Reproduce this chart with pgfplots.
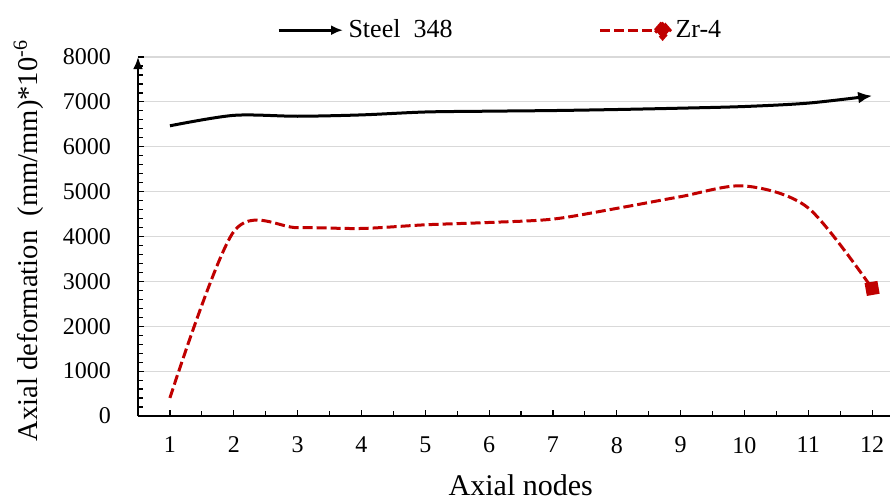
\documentclass[border=0pt]{standalone}
\usepackage{pgfplots}
\pgfplotsset{compat=1.18}
\usepackage{fontspec}
\setmainfont{Liberation Serif}
\usetikzlibrary{arrows.meta}
\definecolor{zrred}{HTML}{C00000}
\definecolor{gridgray}{HTML}{D9D9D9}
\begin{document}
\begin{tikzpicture}
\begin{axis}[
  name=ax,
  scale only axis,
  width=376pt, height=179.5pt,
  xmin=0.5, xmax=12.28,
  ymin=0, ymax=8000,
  axis x line=bottom,
  axis y line=left,
  x axis line style={-, line width=1.2pt},
  y axis line style={-{Latex[length=6pt,width=5pt]}, line width=1.2pt},
  xtick={1,...,12},
  minor xtick={0.5,1.5,...,11.5},
  ytick={0,1000,...,8000},
  minor ytick={200,400,...,7800},
  tick align=inside,
  major tick length=3.2pt,
  minor tick length=2.5pt,
  every tick/.style={black, line width=0.6pt},
  ymajorgrids,
  major y grid style={gridgray, line width=0.6pt},
  /pgf/number format/assume math mode=true,
  /pgf/number format/set thousands separator={},
  ticklabel style={font=\fontsize{12}{14}\selectfont},
  xticklabel style={yshift=-7pt},
  yticklabel style={xshift=-10pt},
  xlabel={Axial nodes},
  ylabel={Axial deformation\ \ (mm/mm)*10\textsuperscript{-6}},
  xlabel style={font=\fontsize{15}{18}\selectfont, at={(axis description cs:0.509,0)}, anchor=base, yshift=-39.5pt},
  ylabel style={font=\fontsize{14.3}{17}\selectfont, at={(axis description cs:-0.134,0.489)}, anchor=base},
  legend columns=2,
  legend style={draw=none, fill=none, at={(0.483,1.022)}, anchor=south,
    font=\fontsize{13}{15}\selectfont,
    /tikz/every even column/.append style={column sep=71pt}},
]
\addplot[black, line width=1.5pt, smooth, -{Latex[length=7pt,width=6pt]},
  legend image code/.code={\draw[black, line width=1.5pt, -{Latex[length=6pt,width=5pt]}] (0cm,0cm) -- (1.13cm,0cm);}]
  coordinates {(1,6467) (2,6700) (3,6680) (4,6710) (5,6775) (6,6793) (7,6807) (8,6830) (9,6860) (10,6897) (11,6973) (12,7136)};
\addlegendentry{Steel\ \ 348}
\addplot[zrred, line width=1.5pt, smooth, dash pattern=on 5pt off 2pt,
  mark=square*, mark indices={12}, mark size=2.5pt, mark options={solid, rotate=10},
  legend image code/.code={\draw[zrred, line width=1.5pt, dash pattern=on 5pt off 2pt] (0cm,0cm) -- (0.96cm,0cm);
     \fill[zrred] (0.97cm,0cm) -- (1.1cm,0.15cm) -- (1.23cm,0cm) -- (1.1cm,-0.15cm) -- cycle;}]
  coordinates {(1,402) (2,4110) (3,4197) (4,4179) (5,4261) (6,4313) (7,4388) (8,4627) (9,4888) (10,5127) (11,4636) (12,2843)};
\addlegendentry{Zr-4}
\end{axis}
\pgfresetboundingbox
\path[use as bounding box] ([shift={(-69pt,-42pt)}]ax.south west) rectangle ([shift={(376.5pt,208pt)}]ax.south west);
\end{tikzpicture}
\end{document}
